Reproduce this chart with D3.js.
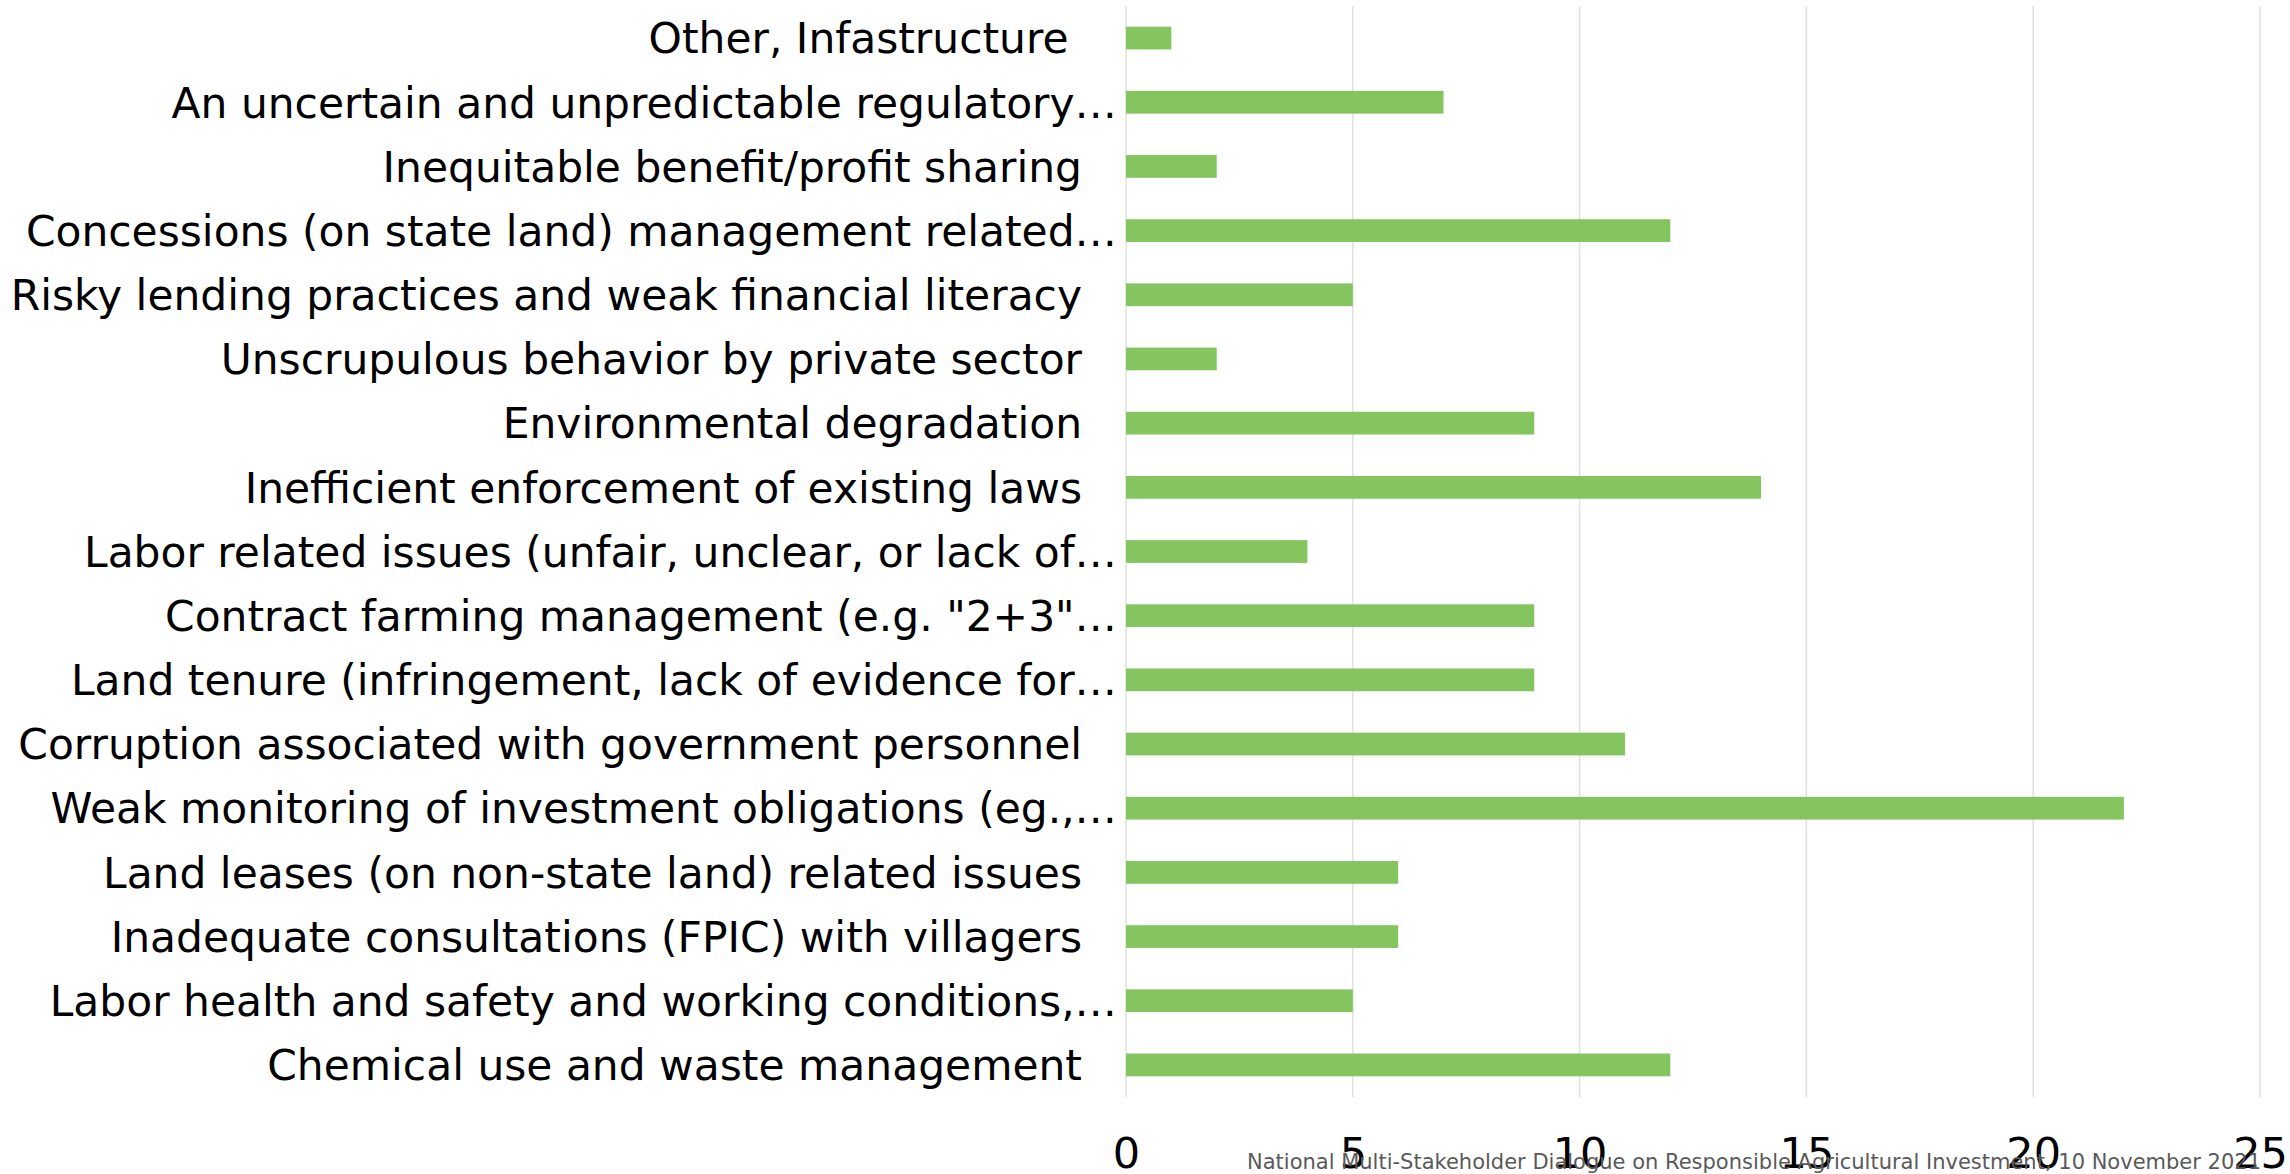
<!DOCTYPE html>
<html>
<head>
<meta charset="utf-8">
<script src="https://cdn.jsdelivr.net/npm/d3@7"></script>
<style>
  html, body { margin: 0; padding: 0; background: #ffffff; overflow: hidden; }
  svg { display: block; }
  text { font-family: "DejaVu Sans", Verdana, sans-serif; }
</style>
</head>
<body>
<svg id="chart" width="2290" height="1174"></svg>
<script>
// ---- data (top to bottom as shown) ----
const categories = [
  "Other, Infastructure ",
  "An uncertain and unpredictable regulatory…",
  "Inequitable benefit/profit sharing",
  "Concessions (on state land) management related…",
  "Risky lending practices and weak financial literacy",
  "Unscrupulous behavior by private sector",
  "Environmental degradation",
  "Inefficient enforcement of existing laws",
  "Labor related issues (unfair, unclear, or lack of…",
  "Contract farming management (e.g. \"2+3\"…",
  "Land tenure (infringement, lack of evidence for…",
  "Corruption associated with government personnel",
  "Weak monitoring of investment obligations (eg.,…",
  "Land leases (on non-state land) related issues",
  "Inadequate consultations (FPIC) with villagers",
  "Labor health and safety and working conditions,…",
  "Chemical use and waste management"
];
const values = [1, 7, 2, 12, 5, 2, 9, 14, 4, 9, 9, 11, 22, 6, 6, 5, 12];
const xTicks = [0, 5, 10, 15, 20, 25];
const footnote = "National Multi-Stakeholder Dialogue on Responsible Agricultural Investment, 10 November 2021";

// ---- layout ----
const W = 2290, H = 1174;
const plot = { left: 1126, right: 2260, top: 6, bottom: 1097 };
const svg = d3.select("#chart");

const x = d3.scaleLinear().domain([0, 25]).range([plot.left, plot.right]);
const gap = 1.82; // Excel gap width 182%
const y = d3.scaleBand()
  .domain(categories)
  .range([plot.top, plot.bottom])
  .paddingInner(gap / (1 + gap))
  .paddingOuter(gap / (1 + gap) / 2);

// gridlines
svg.append("g")
  .selectAll("line")
  .data(xTicks)
  .join("line")
  .attr("x1", d => x(d)).attr("x2", d => x(d))
  .attr("y1", plot.top).attr("y2", plot.bottom)
  .attr("stroke", "#e0e0e0")
  .attr("stroke-width", 1.5);

// bars
svg.append("g")
  .selectAll("rect")
  .data(values)
  .join("rect")
  .attr("x", x(0))
  .attr("y", (d, i) => y(categories[i]))
  .attr("width", d => x(d) - x(0))
  .attr("height", y.bandwidth())
  .attr("fill", "#85c55f");

// category labels
svg.append("g")
  .selectAll("text")
  .data(categories)
  .join("text")
  .attr("x", d => d.endsWith("…") ? plot.left - 9 : plot.left - 44)
  .attr("y", d => y(d) + y.bandwidth() / 2)
  .attr("dy", "0.36em")
  .attr("text-anchor", "end")
  .style("white-space", "pre")
  .attr("xml:space", "preserve")
  .attr("font-size", 42.4)
  .attr("fill", "#000000")
  .text(d => d);

// x axis tick labels
const xAxis = d3.axisBottom(x).tickValues(xTicks).tickSize(0).tickPadding(0);
const gx = svg.append("g")
  .attr("transform", `translate(0,${plot.bottom})`)
  .call(xAxis);
gx.select(".domain").remove();
gx.selectAll("text")
  .attr("y", 71)
  .attr("dy", 0)
  .attr("font-size", 43)
  .attr("font-family", "DejaVu Sans, Verdana, sans-serif")
  .attr("fill", "#000000");

// footnote
svg.append("text")
  .attr("x", 1247)
  .attr("y", 1169)
  .attr("font-size", 21)
  .attr("fill", "#595959")
  .text(footnote);
</script>
</body>
</html>
